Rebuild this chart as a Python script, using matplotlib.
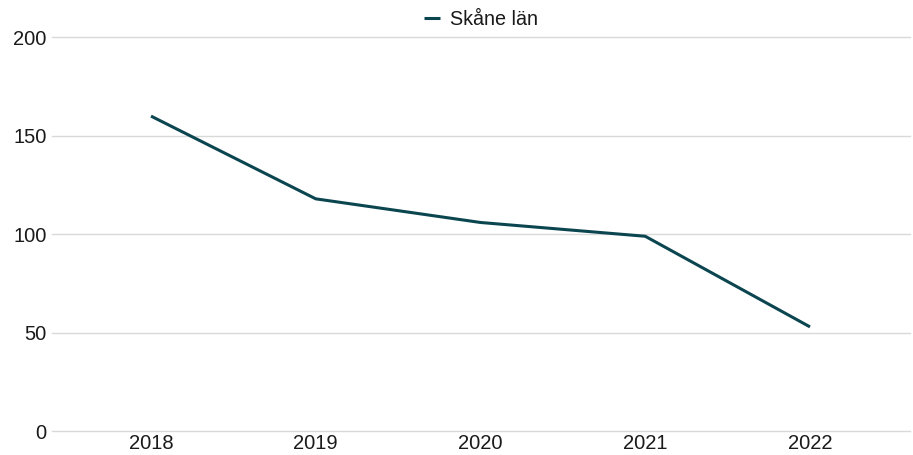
import matplotlib
matplotlib.use("Agg")
import matplotlib.pyplot as plt

years = ["2018", "2019", "2020", "2021", "2022"]
skane = [160, 118, 106, 99, 53]
y_ticks = [0, 50, 100, 150, 200]

plt.rcParams['font.family'] = ['Liberation Sans', 'DejaVu Sans']

fig = plt.figure(figsize=(9.13, 4.55), dpi=100)
ax = fig.add_axes([52 / 913, (455 - 431.3) / 455, (910 - 52) / 913, (431.3 - 37.3) / 455])

x = list(range(len(years)))
ax.plot(x, skane, color="#0b4650", linewidth=2.2, label="Skåne län", solid_capstyle="butt")

ax.set_ylim(0, 200)
ax.set_xlim(-0.601, 4.607)
ax.set_yticks(y_ticks)
ax.set_xticks(x)
ax.set_xticklabels(years)
ax.tick_params(axis="both", length=0, labelsize=14.5, colors="#1a1a1a")
ax.tick_params(axis="y", pad=4)
ax.tick_params(axis="x", pad=2)
ax.grid(axis="y", color="#d9d9d9", linewidth=1)
for gl in ax.get_ygridlines():
    gl.set_clip_on(False)
ax.set_axisbelow(True)
for s in ax.spines.values():
    s.set_visible(False)

leg = fig.legend(loc="upper center", bbox_to_anchor=(0.527, 1.017), frameon=False,
                 fontsize=14.2, handlelength=0.8, handletextpad=0.5)
for t in leg.get_texts():
    t.set_color("#1a1a1a")

fig.savefig("out.png", dpi=100)
